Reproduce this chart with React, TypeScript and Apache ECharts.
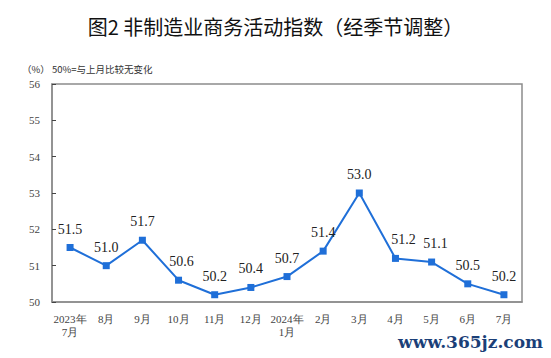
import React, { useEffect, useRef } from "react";
import * as echarts from "echarts";

const categories = [
  "2023年\n7月", "8月", "9月", "10月", "11月", "12月", "2024年\n1月",
  "2月", "3月", "4月", "5月", "6月", "7月",
];
const values = [51.5, 51.0, 51.7, 50.6, 50.2, 50.4, 50.7, 51.4, 53.0, 51.2, 51.1, 50.5, 50.2];
const labelOffsets: [number, number][] = [
  [0, 0], [0, 0], [0, 0], [3, 0], [0, 0], [0, 0], [0, 0],
  [0, 0], [0, 0], [8, 0], [4, 0], [0, 0], [0, 0],
];
const title = "图2 非制造业商务活动指数（经季节调整）";
const subtitle = "（%） 50%=与上月比较无变化";
const watermark = "www.365jz.com";

export default function App() {
  const ref = useRef<HTMLDivElement>(null);
  useEffect(() => {
    if (!ref.current) return;
    const chart = echarts.init(ref.current, undefined, { renderer: "svg" });
    const axisColor = "#8c8c8c";
    chart.setOption({
      animation: false,
      backgroundColor: "#fff",
      title: {
        text: title,
        left: "center",
        top: 11,
        textStyle: {
          fontFamily: "Noto Sans CJK SC",
          fontSize: 20,
          fontWeight: "normal",
          color: "#111",
        },
      },
      graphic: [
        {
          type: "text",
          left: 22,
          top: 64,
          style: {
            text: subtitle,
            fontFamily: "Noto Sans CJK SC, serif",
            fontSize: 9.5,
            fill: "#333",
          },
        },
        {
          type: "text",
          right: 8,
          top: 333,
          style: {
            text: watermark,
            fontFamily: "DejaVu Serif",
            fontSize: 17,
            fontWeight: "bold",
            fill: "#1b3f78",
          },
        },
      ],
      grid: { left: 52, right: 29, top: 84, bottom: 56, show: true, borderColor: axisColor, borderWidth: 1.5 },
      xAxis: {
        type: "category",
        data: categories,
        boundaryGap: true,
        axisLine: { lineStyle: { color: axisColor, width: 1.5 } },
        axisTick: { inside: true, length: 4, lineStyle: { color: "#444" } },
        axisLabel: {
          interval: 0,
          margin: 10,
          fontFamily: "Liberation Serif",
          fontSize: 11,
          color: "#444",
          lineHeight: 13,
        },
      },
      yAxis: {
        type: "value",
        min: 50,
        max: 56,
        interval: 1,
        splitLine: { show: false },
        axisLine: { show: true, lineStyle: { color: axisColor, width: 1.5 } },
        axisTick: { show: true, inside: true, length: 4, lineStyle: { color: "#444" } },
        axisLabel: {
          margin: 12,
          fontFamily: "Liberation Serif",
          fontSize: 11,
          color: "#444",
        },
      },
      series: [
        {
          type: "line",
          data: values.map((v, i) => ({
            value: v,
            label: { offset: labelOffsets[i] },
          })),
          symbol: "rect",
          symbolSize: 7,
          lineStyle: { color: "#1f6fd8", width: 2 },
          itemStyle: { color: "#1f6fd8" },
          label: {
            show: true,
            position: "top",
            distance: 8,
            formatter: (p: any) => Number(p.value).toFixed(1),
            fontFamily: "Liberation Serif",
            fontSize: 14,
            color: "#222",
          },
        },
      ],
    });
    return () => chart.dispose();
  }, []);
  return (
    <div
      ref={ref}
      style={{ position: "fixed", left: 0, top: 0, width: 551, height: 358 }}
    />
  );
}
